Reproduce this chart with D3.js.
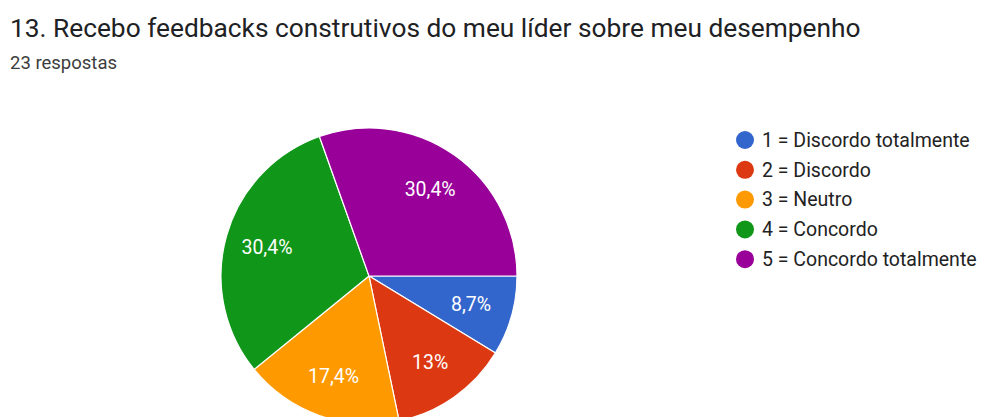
<!DOCTYPE html>
<html>
<head>
<meta charset="utf-8">
<script src="https://cdn.jsdelivr.net/npm/d3@7"></script>
<style>
  html, body { margin: 0; padding: 0; background: #fff; }
  svg { display: block; font-family: Roboto, "Noto Sans", Arial, sans-serif; }
</style>
</head>
<body>
<svg id="chart" width="982" height="417"></svg>
<script>
// Survey question and response counts
const title = "13. Recebo feedbacks construtivos do meu líder sobre meu desempenho";
const subtitle = "23 respostas";
const categories = [
  "1 = Discordo totalmente",
  "2 = Discordo",
  "3 = Neutro",
  "4 = Concordo",
  "5 = Concordo totalmente"
];
const counts = [2, 3, 4, 7, 7];
const colors = ["#3366cc", "#dc3912", "#ff9900", "#109618", "#990099"];

const svg = d3.select("#chart");
const total = d3.sum(counts);

// Header
svg.append("text")
  .attr("x", 10).attr("y", 37)
  .attr("font-size", 26.3)
  .attr("fill", "#202124")
  .text(title);
svg.append("text")
  .attr("x", 10).attr("y", 69)
  .attr("font-size", 18.5)
  .attr("fill", "#3c3c3c")
  .text(subtitle);

// Pie, starting at 3 o'clock and running clockwise
const cx = 369, cy = 276, r = 148;
const data = categories.map((c, i) => ({ label: c, value: counts[i], color: colors[i] }));
const pie = d3.pie().value(d => d.value).sort(null)
  .startAngle(Math.PI / 2).endAngle(Math.PI / 2 + 2 * Math.PI);
const arcs = pie(data);
const arc = d3.arc().innerRadius(0).outerRadius(r);
const labelArc = d3.arc().innerRadius(106).outerRadius(106);

const g = svg.append("g").attr("transform", `translate(${cx},${cy})`);
g.selectAll("path.slice")
  .data(arcs)
  .join("path")
  .attr("class", "slice")
  .attr("d", arc)
  .attr("fill", d => d.data.color)
  .attr("stroke", "#fff")
  .attr("stroke-width", 1.2);

// Percentage labels, one decimal with a comma, trailing zero dropped
const fmtPct = v => {
  const s = (Math.round(v * 1000) / 10).toFixed(1).replace(/\.0$/, "");
  return s.replace(".", ",") + "%";
};
g.selectAll("text.pct")
  .data(arcs)
  .join("text")
  .attr("class", "pct")
  .attr("transform", d => `translate(${labelArc.centroid(d)})`)
  .attr("text-anchor", "middle")
  .attr("dy", "0.35em")
  .attr("font-size", 19.5)
  .attr("fill", "#fff")
  .text(d => fmtPct(d.data.value / total));

// Legend
const legend = svg.append("g").attr("transform", "translate(745,140)");
const rows = legend.selectAll("g.row")
  .data(data)
  .join("g")
  .attr("class", "row")
  .attr("transform", (d, i) => `translate(0,${i * 29.8})`);
rows.append("circle")
  .attr("r", 9)
  .attr("fill", d => d.color);
rows.append("text")
  .attr("x", 17)
  .attr("dy", "0.35em")
  .attr("font-size", 19.5)
  .attr("fill", "#222")
  .text(d => d.label);
</script>
</body>
</html>
